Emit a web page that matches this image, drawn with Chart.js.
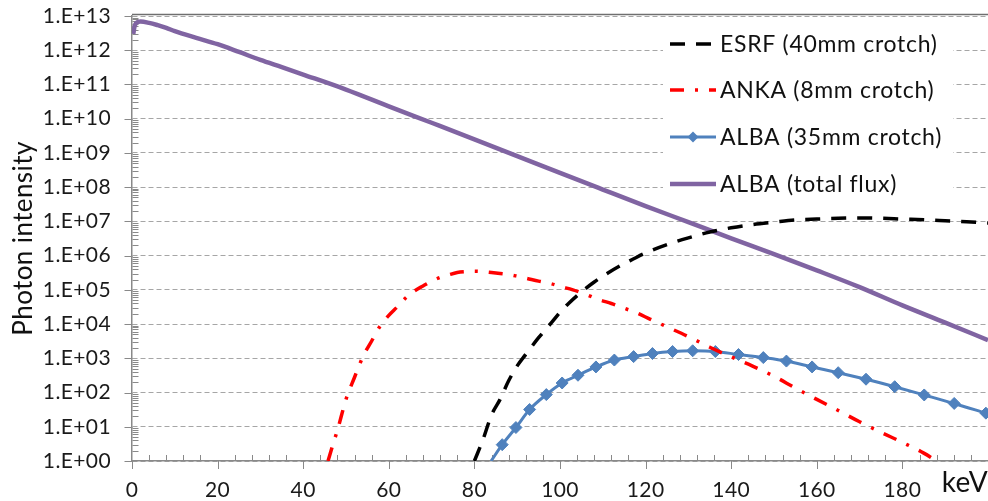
<!DOCTYPE html>
<html>
<head>
<meta charset="utf-8">
<title>Photon intensity vs energy</title>
<script src="https://cdn.jsdelivr.net/npm/chart.js@4.4.1/dist/chart.umd.min.js"></script>
<style>
  html, body { margin: 0; padding: 0; background: #ffffff; }
  #c { display: block; }
</style>
</head>
<body>
<canvas id="c" width="988" height="501"></canvas>
<script>
// Photon energy (keV) and intensity for each source
const esrfEnergy = [80, 82, 84, 86, 88, 90, 92, 95, 98, 100, 102, 105, 108, 111, 114, 117, 120, 125, 130, 135, 140, 145, 150, 155, 160, 165, 170, 175, 180, 185, 190, 195, 200];
const esrfFlux = [1, 4.2, 22, 63, 220, 600, 1.3e3, 4.0e3, 1.1e4, 2.2e4, 4.0e4, 8.7e4, 1.7e5, 3.0e5, 5.0e5, 7.8e5, 1.2e6, 2.1e6, 3.3e6, 4.9e6, 6.5e6, 8.1e6, 9.5e6, 1.1e7, 1.17e7, 1.23e7, 1.26e7, 1.23e7, 1.17e7, 1.12e7, 1.05e7, 9.8e6, 8.9e6];

const ankaEnergy = [45.8, 47, 48, 50, 52, 54, 56, 58, 60, 62, 64, 66, 68, 70, 72, 74, 76, 78, 80, 82, 84, 86, 88, 90, 92, 95, 98, 100, 103, 106, 109, 112, 115, 118, 121, 125, 130, 135, 140, 145, 150, 155, 160, 165, 170, 175, 180, 185, 188];
const ankaFlux = [1, 3.2, 7.9, 63, 280, 1.15e3, 3.2e3, 8.9e3, 1.8e4, 3.2e4, 5.9e4, 9.3e4, 1.3e5, 1.8e5, 2.3e5, 2.75e5, 3.2e5, 3.4e5, 3.5e5, 3.4e5, 3.2e5, 3.0e5, 2.8e5, 2.5e5, 2.2e5, 1.8e5, 1.5e5, 1.26e5, 1.0e5, 7.4e4, 5.2e4, 4.0e4, 2.9e4, 2.1e4, 1.4e4, 8.3e3, 4.3e3, 2.1e3, 1.1e3, 5.9e2, 3.0e2, 1.35e2, 63, 30, 14, 6.9, 3.5, 1.7, 1];

const albaEnergy = [83.9, 86.5, 89.7, 92.9, 96.8, 100.5, 104.2, 108.4, 112.7, 117.2, 121.6, 126.3, 131, 136.3, 141.7, 147.5, 152.9, 158.9, 165, 171.5, 178.2, 185.1, 192.1, 199.5];
const albaFlux = [1, 3.0, 9.5, 32, 87, 190, 320, 560, 890, 1120, 1380, 1580, 1660, 1580, 1290, 1050, 830, 560, 380, 245, 148, 85, 48, 25];

const totalEnergy = [0.3, 0.6, 1, 2, 4, 6, 8, 10, 15, 20, 25, 30, 35, 40, 50, 60, 70, 80, 90, 100, 110, 120, 130, 140, 150, 160, 170, 180, 190, 200];
const totalFlux = [3.0e12, 5.0e12, 6.3e12, 6.9e12, 6.3e12, 5.4e12, 4.5e12, 3.6e12, 2.3e12, 1.5e12, 8.9e11, 5.2e11, 3.2e11, 1.95e11, 7.1e10, 2.3e10, 7.6e9, 2.5e9, 8.1e8, 2.6e8, 8.5e7, 2.8e7, 9.5e6, 3.2e6, 1.1e6, 3.7e5, 1.2e5, 3.5e4, 1.1e4, 3.4e3];

const seriesNames = ['ESRF (40mm crotch)', 'ANKA (8mm crotch)', 'ALBA (35mm crotch)', 'ALBA (total flux)'];

// Axis ticks
const decadeValues = [1, 1e1, 1e2, 1e3, 1e4, 1e5, 1e6, 1e7, 1e8, 1e9, 1e10, 1e11, 1e12, 1e13];
const decadeLabels = ['1.E+00', '1.E+01', '1.E+02', '1.E+03', '1.E+04', '1.E+05', '1.E+06', '1.E+07', '1.E+08', '1.E+09', '1.E+10', '1.E+11', '1.E+12', '1.E+13'];
const energyTickValues = [0, 20, 40, 60, 80, 100, 120, 140, 160, 180];
const energyTickLabels = ['0', '20', '40', '60', '80', '100', '120', '140', '160', '180'];
const energyUnit = 'keV';
const yTitle = 'Photon intensity';

const toPoints = (xs, ys) => xs.map((x, i) => ({ x: x, y: ys[i] }));

const FONT = 'Lato, "Open Sans", sans-serif';
const AXIS_GRAY = '#898989';

// Minor tick marks, top frame line and the in-plot legend
const decorations = {
  id: 'decorations',
  beforeDraw(chart) {
    chart.ctx.letterSpacing = '0.4px';
  },
  beforeDatasetsDraw(chart) {
    const { ctx, chartArea, scales } = chart;
    const xs = scales.x, ys = scales.y;
    ctx.save();
    ctx.strokeStyle = AXIS_GRAY;
    ctx.lineWidth = 1;
    ctx.beginPath();
    // energy axis: major ticks below, minor ticks (every 4 keV) above
    for (let e = 0; e < 200; e += 4) {
      const px = Math.round(xs.getPixelForValue(e)) + 0.5;
      if (e % 20 === 0) {
        ctx.moveTo(px, chartArea.bottom);
        ctx.lineTo(px, chartArea.bottom + 8);
      } else {
        ctx.moveTo(px, chartArea.bottom);
        ctx.lineTo(px, chartArea.bottom - 6);
      }
    }
    // intensity axis: major ticks outside, minor ticks inside
    const ax = Math.round(chartArea.left) + 0.5;
    decadeValues.forEach((d, i) => {
      const py = Math.round(ys.getPixelForValue(d)) + 0.5;
      ctx.moveTo(ax - 8, py);
      ctx.lineTo(ax, py);
      if (i < decadeValues.length - 1) {
        for (let m = 2; m <= 9; m++) {
          const my = Math.round(ys.getPixelForValue(d * m)) + 0.5;
          ctx.moveTo(ax, my);
          ctx.lineTo(ax + 6, my);
        }
      }
    });
    ctx.stroke();
    // top frame
    ctx.strokeStyle = '#6f6f6f';
    ctx.lineWidth = 1.5;
    ctx.beginPath();
    ctx.moveTo(chartArea.left, chartArea.top - 1.5);
    ctx.lineTo(chartArea.right, chartArea.top - 1.5);
    ctx.stroke();

    // legend
    const box = { x: 663, y: 25, w: 290, h: 182 };
    ctx.fillStyle = '#ffffff';
    ctx.fillRect(box.x, box.y, box.w, box.h);
    const rowY = [44, 90, 137, 184];
    const x0 = 670, x1 = 716, tx = 720;
    chart.data.datasets.forEach((ds, i) => {
      const y = rowY[i];
      ctx.save();
      ctx.strokeStyle = ds.borderColor;
      ctx.lineWidth = ds.borderWidth;
      ctx.setLineDash(ds.borderDash || []);
      ctx.lineCap = 'butt';
      ctx.beginPath();
      ctx.moveTo(x0, y);
      ctx.lineTo(x1, y);
      ctx.stroke();
      ctx.restore();
      if (ds.pointStyle === 'rectRot') {
        const cx = (x0 + x1) / 2, r = 5.5;
        ctx.fillStyle = ds.pointBackgroundColor;
        ctx.beginPath();
        ctx.moveTo(cx, y - r);
        ctx.lineTo(cx + r, y);
        ctx.lineTo(cx, y + r);
        ctx.lineTo(cx - r, y);
        ctx.closePath();
        ctx.fill();
      }
      ctx.fillStyle = '#111111';
      ctx.font = '23px ' + FONT;
      ctx.letterSpacing = '0.7px';
      ctx.textBaseline = 'middle';
      ctx.textAlign = 'left';
      ctx.fillText(ds.label, tx, y + 1);
    });
    ctx.restore();
  }
};

const chart = new Chart(document.getElementById('c'), {
  type: 'line',
  data: {
    datasets: [
      {
        label: seriesNames[0],
        data: toPoints(esrfEnergy, esrfFlux),
        borderColor: '#000000',
        borderWidth: 3.5,
        borderDash: [15, 11],
        pointRadius: 0,
        cubicInterpolationMode: 'monotone'
      },
      {
        label: seriesNames[1],
        data: toPoints(ankaEnergy, ankaFlux),
        borderColor: '#ff0000',
        borderWidth: 3.5,
        borderDash: [14, 11, 3, 11],
        pointRadius: 0,
        cubicInterpolationMode: 'monotone'
      },
      {
        label: seriesNames[2],
        data: toPoints(albaEnergy, albaFlux),
        borderColor: '#4f81bd',
        borderWidth: 3,
        pointStyle: 'rectRot',
        pointRadius: ctx => (ctx.dataIndex === 0 ? 0 : 6),
        pointBackgroundColor: '#4f81bd',
        pointBorderColor: '#4f81bd',
        pointBorderWidth: 1,
        cubicInterpolationMode: 'monotone'
      },
      {
        label: seriesNames[3],
        data: toPoints(totalEnergy, totalFlux),
        borderColor: '#8064a2',
        borderWidth: 4.5,
        pointRadius: 0,
        cubicInterpolationMode: 'monotone'
      }
    ]
  },
  options: {
    responsive: false,
    animation: false,
    devicePixelRatio: 1,
    layout: { autoPadding: false, padding: { top: 16, right: 0, left: 0, bottom: 0 } },
    plugins: {
      legend: { display: false },
      tooltip: { enabled: false }
    },
    scales: {
      x: {
        type: 'linear',
        min: 0,
        max: 200,
        afterBuildTicks: s => { s.ticks = energyTickValues.map(v => ({ value: v })); },
        ticks: {
          callback: (v, i) => energyTickLabels[i],
          font: { family: FONT, size: 21 },
          color: '#1a1a1a',
          padding: 17,
          maxRotation: 0,
          autoSkip: false
        },
        grid: { display: false, drawTicks: false },
        border: { display: true, color: AXIS_GRAY, width: 1.5 },
        title: {
          display: true,
          text: energyUnit,
          align: 'end',
          font: { family: FONT, size: 28 },
          color: '#111111',
          padding: { top: 0, bottom: 1 }
        },
        afterFit: s => { s.height = 40; s.paddingLeft = 0; s.paddingRight = 0; }
      },
      y: {
        type: 'logarithmic',
        min: 1,
        max: 1e13,
        afterBuildTicks: s => { s.ticks = decadeValues.map(v => ({ value: v })); },
        ticks: {
          callback: (v, i) => decadeLabels[i],
          font: { family: FONT, size: 21 },
          color: '#1a1a1a',
          padding: 21,
          autoSkip: false
        },
        grid: { color: '#a6a6a6', lineWidth: 1, drawTicks: false },
        border: { display: true, color: AXIS_GRAY, width: 1.5, dash: [5, 3] },
        title: {
          display: true,
          text: yTitle,
          font: { family: FONT, size: 26 },
          color: '#111111',
          padding: { top: 8, bottom: 0 }
        },
        afterFit: s => { s.width = 132; s.paddingTop = 0; s.paddingBottom = 0; }
      }
    }
  },
  plugins: [decorations]
});
</script>
</body>
</html>
